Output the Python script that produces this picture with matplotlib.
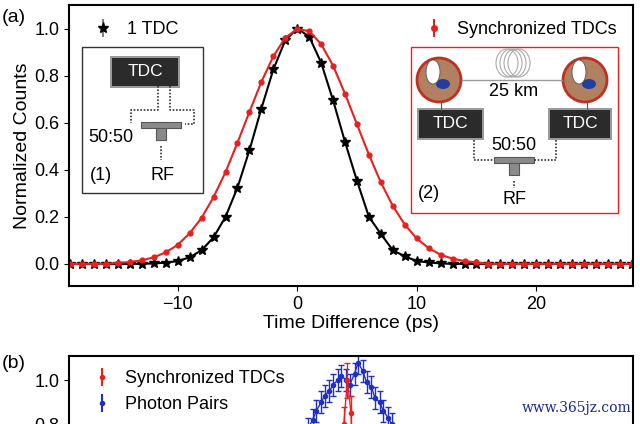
import matplotlib
matplotlib.use("Agg")
import matplotlib.pyplot as plt
from matplotlib.patches import Rectangle, Ellipse
from matplotlib.lines import Line2D

plt.rcParams['font.family'] = ['Liberation Sans', 'DejaVu Sans']

# panel (a) data
t_black = list(range(-19, 29))
c_black = [0, 0, 0, 0, 0, 0, 0, 0.002, 0.005, 0.012, 0.028, 0.058, 0.113, 0.20, 0.324, 0.483,
           0.66, 0.826, 0.95, 1.0, 0.966, 0.855, 0.695, 0.518, 0.353, 0.20, 0.127, 0.058,
           0.032, 0.012, 0.006, 0.002, 0, 0, 0, 0, 0, 0, 0, 0, 0, 0, 0, 0, 0, 0, 0, 0]
t_red = list(range(-19, 29))
c_red = [0, 0, 0, 0, 0.004, 0.008, 0.015, 0.028, 0.049, 0.081, 0.13, 0.196, 0.284, 0.39,
         0.515, 0.646, 0.773, 0.882, 0.961, 0.998, 0.989, 0.934, 0.842, 0.723, 0.593, 0.464,
         0.346, 0.246, 0.167, 0.108, 0.067, 0.039, 0.022, 0.012, 0.006, 0, 0, 0, 0, 0, 0,
         0, 0, 0, 0, 0, 0, 0]

# panel (b) data
t_pairs = [0.6, 0.9, 1.3, 1.6, 2.0, 2.3, 2.7, 3.0, 3.4, 3.7, 4.1, 4.4, 4.8, 5.1, 5.5, 5.8,
           6.2, 6.5, 6.9, 7.2, 7.6, 7.9, 8.3]
c_pairs = [0.70, 0.78, 0.82, 0.86, 0.90, 0.93, 0.95, 0.98, 1.00, 1.02, 1.00, 0.98, 1.03,
           1.08, 1.04, 0.99, 0.97, 0.92, 0.90, 0.86, 0.83, 0.80, 0.74]
t_sync_b = [3.6, 3.9, 4.2, 4.5, 4.8, 5.1]
c_sync_b = [0.3, 0.8, 1.0, 0.85, 0.35, 0.05]

W, H = 640, 424
fig = plt.figure(figsize=(6.4, 4.24), dpi=100)


def fa(x0, y0, x1, y1):
    return [x0 / W, 1 - y1 / H, (x1 - x0) / W, (y1 - y0) / H]


ax = fig.add_axes(fa(69, 5, 633, 286))
ax.plot(t_black, c_black, color='black', lw=1.5, marker='*', ms=7)
ax.plot(t_red, c_red, color='#e8201e', lw=1.5, marker='o', ms=3.5)
ax.set_xlim(-19.1, 28.1)
ax.set_ylim(-0.094, 1.10)
ax.set_xticks([-10, 0, 10, 20])
ax.set_yticks([0, 0.2, 0.4, 0.6, 0.8, 1.0])
ax.set_yticklabels(['0.0', '0.2', '0.4', '0.6', '0.8', '1.0'])
ax.tick_params(labelsize=13)
ax.set_xlabel('Time Difference (ps)', fontsize=14, labelpad=2)
ax.set_ylabel('Normalized Counts', fontsize=14, labelpad=2)
for s in ax.spines.values():
    s.set_linewidth(1.5)

h1 = ax.errorbar([], [], yerr=[], color='black', marker='*', ms=8, ls='none', capsize=3, ecolor='gray')
leg1 = ax.legend([h1], ['1 TDC'], loc='upper left', frameon=False, fontsize=13,
                 handletextpad=0.3, bbox_to_anchor=(0.0, 1.0))
ax.add_artist(leg1)
h2 = ax.errorbar([], [], yerr=[], color='#e8201e', marker='o', ms=4, ls='none', capsize=3)
ax.legend([h2], ['Synchronized TDCs'], loc='upper right', frameon=False, fontsize=13,
          handletextpad=0.3)

fig.text(2 / W, 1 - 22 / H, '(a)', fontsize=14)


def px(x, y):
    return x / W, 1 - y / H


def rect(x0, y0, x1, y1, **kw):
    fig.add_artist(Rectangle(px(x0, y1), (x1 - x0) / W, (y1 - y0) / H,
                             transform=fig.transFigure, **kw))


def line(xs, ys, **kw):
    fig.add_artist(Line2D([x / W for x in xs], [1 - y / H for y in ys],
                          transform=fig.transFigure, **kw))


def tdc(x0, y0, x1, y1):
    rect(x0 - 2, y0 - 2, x1 + 2, y1 + 2, facecolor='#9a9a9a', edgecolor='none')
    rect(x0, y0, x1, y1, facecolor='#2b2b2b', edgecolor='none')
    fig.text(*px((x0 + x1) / 2, (y0 + y1) / 2), 'TDC', color='white', fontsize=12.5,
             ha='center', va='center')


def splitter(cx, y0):
    rect(cx - 20, y0, cx + 20, y0 + 6, facecolor='#8a8a8a', edgecolor='#555555', lw=0.8)
    rect(cx - 5, y0 + 6, cx + 5, y0 + 18, facecolor='#8a8a8a', edgecolor='#555555', lw=0.8)


dot = dict(color='#333333', lw=1.2, ls=(0, (1, 1)))

# inset (1)
rect(82, 47, 203, 193, facecolor='white', edgecolor='#333333', lw=1.0)
tdc(112, 58, 178, 86)
line([158, 158, 131, 131], [86, 110, 110, 123], **dot)
line([170, 170, 194, 194, 185], [86, 110, 110, 124, 124], **dot)
splitter(161, 122)
line([161, 161], [146, 160], **dot)
fig.text(*px(88, 138), '50:50', fontsize=13, ha='left', va='center')
fig.text(*px(90, 176), '(1)', fontsize=13, ha='left', va='center')
fig.text(*px(163, 176), 'RF', fontsize=13, ha='center', va='center')

# inset (2)
rect(411, 47, 618, 213, facecolor='white', edgecolor='#e8201e', lw=1.0)
for cx in (439, 585):
    fig.add_artist(Ellipse(px(cx, 80), 44 / W, 44 / H, transform=fig.transFigure,
                           facecolor='#b08060', edgecolor='#c03020', lw=2))
    fig.add_artist(Ellipse(px(cx + 4, 84), 14 / W, 10 / H, transform=fig.transFigure,
                           facecolor='#2040a0', edgecolor='none'))
    fig.add_artist(Ellipse(px(cx - 6, 72), 14 / W, 24 / H, transform=fig.transFigure,
                           facecolor='white', edgecolor='#555555', lw=0.6))
line([462, 562], [80, 80], color='#999999', lw=1)
for dx in (-6, -2, 2, 6):
    fig.add_artist(Ellipse(px(513 + dx, 63), 22 / W, 28 / H, transform=fig.transFigure,
                           facecolor='none', edgecolor='#aaaaaa', lw=0.8))
fig.text(*px(514, 91), '25 km', fontsize=13, ha='center', va='center')
line([441, 441], [102, 110], color='#555555', lw=0.8)
line([587, 587], [102, 110], color='#555555', lw=0.8)
tdc(419, 110, 482, 138)
tdc(550, 110, 610, 138)
line([474, 474, 494], [140, 160, 160], **dot)
line([556, 556, 534], [140, 160, 160], **dot)
splitter(514, 157)
line([514, 514], [181, 188], **dot)
fig.text(*px(514, 145), '50:50', fontsize=13, ha='center', va='center')
fig.text(*px(418, 193), '(2)', fontsize=13, ha='left', va='center')
fig.text(*px(514, 200), 'RF', fontsize=13, ha='center', va='center')

# panel (b), cut off by the image edge
bx = fig.add_axes(fa(69, 356, 633, 600))
bx.errorbar(t_pairs, c_pairs, yerr=0.05, color='#2030c0', marker='o', ms=3, ls='-',
            lw=1, capsize=2)
bx.errorbar(t_sync_b, c_sync_b, yerr=0.08, color='#e8201e', marker='o', ms=3, ls='-',
            lw=1, capsize=2)
bx.set_xlim(-19.1, 28.1)
bx.set_ylim(0, 1.11)
bx.set_xticks([])
bx.set_yticks([0.8, 1.0])
bx.set_yticklabels(['0.8', '1.0'])
bx.tick_params(labelsize=13)
bx.set_ylabel('Counts', fontsize=14, labelpad=2)
for s in bx.spines.values():
    s.set_linewidth(1.5)
hb1 = bx.errorbar([], [], yerr=[], color='#e8201e', marker='o', ms=3, ls='none', capsize=3)
hb2 = bx.errorbar([], [], yerr=[], color='#2030c0', marker='o', ms=3, ls='none', capsize=3)
bx.legend([hb1, hb2], ['Synchronized TDCs', 'Photon Pairs'], loc='upper left',
          frameon=False, fontsize=13, handletextpad=0.3, borderaxespad=0.4)
fig.text(2 / W, 1 - 368 / H, '(b)', fontsize=14)

fig.text(*px(632, 408), 'www.365jz.com', fontsize=10, color='#1a2a8a',
         family='DejaVu Serif', ha='right', va='center')

fig.savefig('out.png', dpi=100)
